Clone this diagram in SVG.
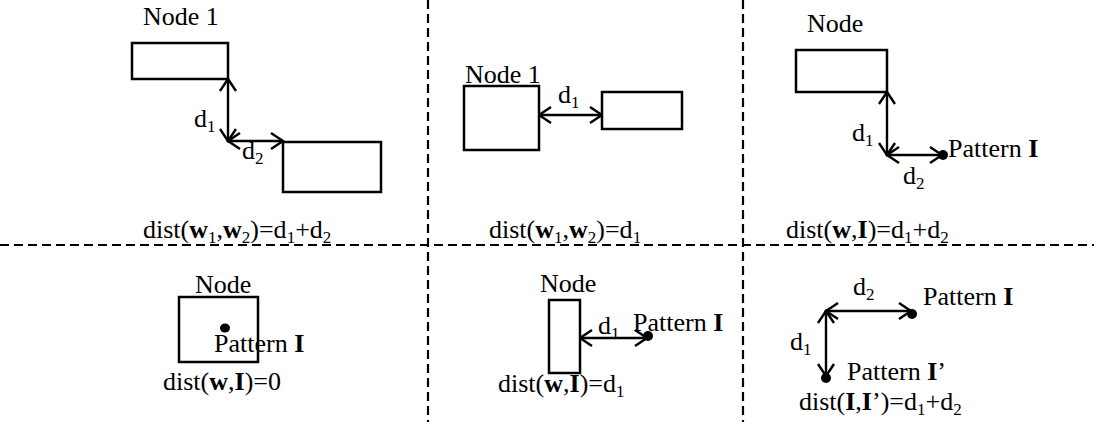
<svg xmlns="http://www.w3.org/2000/svg" width="1094" height="422" viewBox="0 0 1094 422">
<style>
.t{font-family:"Liberation Serif","Times New Roman",serif;font-size:26px;fill:#000}
.b{font-weight:bold}
.s{font-size:17px}
.box{fill:#fff;stroke:#000;stroke-width:2.5}
.dot{fill:#000}
.sep{stroke:#000;stroke-width:2.2;stroke-dasharray:9 5;fill:none}
.arr{stroke:#000;stroke-width:2.4;fill:none;marker-start:url(#ah);marker-end:url(#ah)}
</style>
<defs>
<marker id="ah" markerUnits="userSpaceOnUse" markerWidth="16" markerHeight="18" refX="12" refY="8" orient="auto-start-reverse" overflow="visible">
<path d="M0,0 L12,8 L0,16" fill="none" stroke="#000" stroke-width="2.4"/>
</marker>
</defs>
<g id="separators">
<line class="sep" x1="0" y1="245" x2="1094" y2="245"/>
<line class="sep" x1="428" y1="0" x2="428" y2="422"/>
<line class="sep" x1="743" y1="0" x2="743" y2="422"/>
</g>
<g id="connectors">
<line class="arr" x1="228" y1="79" x2="228" y2="141"/>
<line class="arr" x1="228" y1="141" x2="283" y2="141"/>
<line class="arr" x1="539" y1="115" x2="602" y2="115"/>
<line class="arr" x1="887" y1="92" x2="887" y2="155"/>
<line class="arr" x1="887" y1="155" x2="942" y2="155"/>
<line class="arr" x1="580" y1="338" x2="647" y2="338"/>
<line class="arr" x1="826" y1="311" x2="911" y2="311"/>
<line class="arr" x1="826" y1="311" x2="826" y2="376"/>
</g>
<g id="panel1-node1">
<rect class="box" x="132" y="43" width="96" height="36"/>
<text class="t" x="143" y="25">Node 1</text>
</g>
<g id="panel1-node2">
<rect class="box" x="283" y="142" width="98" height="50"/>
</g>
<g id="panel1-labels">
<text class="t" x="194" y="127">d<tspan class="s" dy="5">1</tspan></text>
<text class="t" x="242" y="159">d<tspan class="s" dy="5">2</tspan></text>
<text class="t" x="143" y="238">dist(<tspan class="b">w</tspan><tspan class="s" dy="5">1</tspan><tspan dy="-5">,</tspan><tspan class="b">w</tspan><tspan class="s" dy="5">2</tspan><tspan dy="-5">)=d</tspan><tspan class="s" dy="5">1</tspan><tspan dy="-5">+d</tspan><tspan class="s" dy="5">2</tspan></text>
</g>
<g id="panel2-node1">
<rect class="box" x="464" y="86" width="75" height="64"/>
<text class="t" x="465" y="83">Node 1</text>
</g>
<g id="panel2-node2">
<rect class="box" x="602" y="92" width="80" height="37"/>
</g>
<g id="panel2-labels">
<text class="t" x="558" y="103">d<tspan class="s" dy="5">1</tspan></text>
<text class="t" x="489" y="238">dist(<tspan class="b">w</tspan><tspan class="s" dy="5">1</tspan><tspan dy="-5">,</tspan><tspan class="b">w</tspan><tspan class="s" dy="5">2</tspan><tspan dy="-5">)=d</tspan><tspan class="s" dy="5">1</tspan></text>
</g>
<g id="panel3-node">
<rect class="box" x="796" y="50" width="91" height="42"/>
<text class="t" x="807" y="32">Node</text>
</g>
<g id="panel3-pattern">
<circle class="dot" cx="943" cy="155" r="5"/>
<text class="t" x="948" y="157">Pattern <tspan class="b">I</tspan></text>
</g>
<g id="panel3-labels">
<text class="t" x="852" y="141">d<tspan class="s" dy="5">1</tspan></text>
<text class="t" x="903" y="184">d<tspan class="s" dy="5">2</tspan></text>
<text class="t" x="786" y="238">dist(<tspan class="b">w</tspan>,<tspan class="b">I</tspan>)=d<tspan class="s" dy="5">1</tspan><tspan dy="-5">+d</tspan><tspan class="s" dy="5">2</tspan></text>
</g>
<g id="panel4-node">
<rect class="box" x="179" y="297" width="79" height="65"/>
<text class="t" x="195" y="293">Node</text>
</g>
<g id="panel4-pattern">
<ellipse class="dot" cx="225" cy="328" rx="5" ry="4.5"/>
<text class="t" x="214" y="352">Pattern <tspan class="b">I</tspan></text>
</g>
<g id="panel4-labels">
<text class="t" x="163" y="390">dist(<tspan class="b">w</tspan>,<tspan class="b">I</tspan>)=0</text>
</g>
<g id="panel5-node">
<rect class="box" x="549" y="300" width="31" height="73"/>
<text class="t" x="540" y="292">Node</text>
</g>
<g id="panel5-pattern">
<circle class="dot" cx="648" cy="336" r="5"/>
<text class="t" x="633" y="331">Pattern <tspan class="b">I</tspan></text>
</g>
<g id="panel5-labels">
<text class="t" x="598" y="334">d<tspan class="s" dy="5">1</tspan></text>
<text class="t" x="498" y="392">dist(<tspan class="b">w</tspan>,<tspan class="b">I</tspan>)=d<tspan class="s" dy="5">1</tspan></text>
</g>
<g id="panel6-pattern1">
<circle class="dot" cx="912" cy="314" r="5"/>
<text class="t" x="923" y="305">Pattern <tspan class="b">I</tspan></text>
</g>
<g id="panel6-pattern2">
<circle class="dot" cx="826" cy="378" r="5"/>
<text class="t" x="847" y="380">Pattern <tspan class="b">I</tspan>’</text>
</g>
<g id="panel6-labels">
<text class="t" x="853" y="295">d<tspan class="s" dy="5">2</tspan></text>
<text class="t" x="790" y="350">d<tspan class="s" dy="5">1</tspan></text>
<text class="t" x="799" y="410">dist(<tspan class="b">I</tspan>,<tspan class="b">I</tspan>’)=d<tspan class="s" dy="5">1</tspan><tspan dy="-5">+d</tspan><tspan class="s" dy="5">2</tspan></text>
</g>
</svg>
